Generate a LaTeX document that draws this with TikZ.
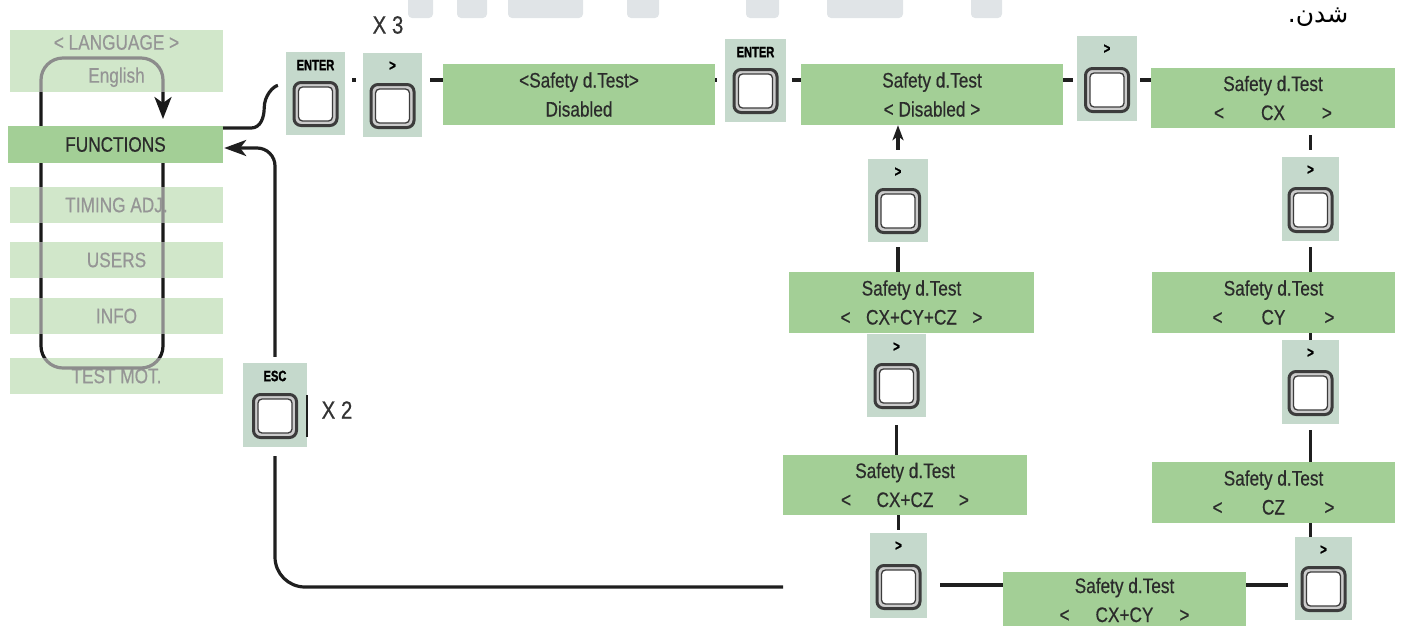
\documentclass[tikz,border=0pt]{standalone}
\usepackage{fontspec}
\setmainfont{Liberation Sans}[FakeStretch=0.82,FakeBold=0.5]
\newfontfamily\arabicfont[Script=Arabic]{DejaVu Sans}
\newfontfamily\keyfont{Liberation Sans}[FakeStretch=0.74,FakeBold=1.2]
\TeXXeTstate=1
\usetikzlibrary{arrows.meta,calc}
\definecolor{dispgreen}{HTML}{A3CF96}
\definecolor{keygray}{HTML}{C5D9CC}
\definecolor{txtdark}{HTML}{2B2B2B}
\definecolor{topgray}{HTML}{E0E4E7}
\definecolor{btndark}{HTML}{3C3C3C}
\tikzset{
  disp/.style={rectangle, fill=dispgreen, inner sep=0pt, align=center, text=txtdark, font=\fontsize{21}{29}\selectfont},
  keybox/.style={rectangle, fill=keygray, inner sep=0pt},
  keylabel/.style={font=\keyfont\fontsize{15}{15}\selectfont\bfseries, text=black, inner sep=0pt},
  btnout/.style={rectangle, rounded corners=7pt, draw=btndark, line width=3pt, fill=gray!40, minimum width=43pt, minimum height=43pt, inner sep=0pt},
  btnin/.style={rectangle, rounded corners=4pt, draw=btndark, line width=1.3pt, fill=white, minimum width=34pt, minimum height=34pt, inner sep=0pt},
  conn/.style={draw=black!88, line width=3.2pt},
  arr/.style={conn, -{Stealth[length=22pt,width=16pt,inset=6pt]}},
  smallarr/.style={conn, -{Stealth[length=15pt,width=11pt,inset=4pt]}},
  menuloop/.style={draw=black!90, line width=3.2pt, rounded corners=22pt, -{Stealth[length=22pt,width=17pt,inset=6pt]}},
  fade/.style={fill=white, opacity=0.5},
  topblock/.style={fill=topgray, rounded corners=4pt},
  mult/.style={font=\fontsize{25}{25}\selectfont, text=black!80, inner sep=0pt}
}
\newcommand{\mykey}[6]{%
  \node[keybox, minimum width={(#4-#2)*1pt}, minimum height={(#5-#3)*1pt}] (#1) at ({(#2+#4)/2},{(#3+#5)/2}) {};
  \node[keylabel] (#1l) at ({(#2+#4)/2},{#3+13}) {#6};
  \node[btnout] (#1b) at ({(#2+#4)/2},{#5-31}) {};
  \node[btnin] (#1i) at (#1b) {};
}
\newcommand{\mydisp}[6]{%
  \node[disp, minimum width={(#4-#2)*1pt}, minimum height={(#5-#3)*1pt}] (#1) at ({(#2+#4)/2},{(#3+#5)/2}) {#6};
}
\newcommand{\selrow}[2]{\makebox[#1pt]{<\hfill #2\hfill>}}
\begin{document}
\begin{tikzpicture}[x=1pt,y=-1pt]
\useasboundingbox (0,0) rectangle (1402,625);
% top blocks
\foreach \a/\b in {408/433,457/487,508/583,627/659,746/779,827/903,971/1002}
  \fill[topblock] (\a,-6) rectangle (\b,18);
\node[font=\fontsize{25}{25}\selectfont, inner sep=0pt] (arab) at (1318,17) {\arabicfont\beginR شدن.\endR};
% left menu (faded)
\mydisp{lang}{10}{30}{223}{92}{\raisebox{4pt}{< LANGUAGE >}\\English}
\mydisp{timing}{10}{187}{223}{223}{TIMING ADJ.}
\mydisp{users}{10}{242}{223}{278}{USERS}
\mydisp{info}{10}{298}{223}{334}{INFO}
\mydisp{testm}{10}{358}{223}{394}{TEST MOT.}
\coordinate (lpTL) at (41,58);
\coordinate (lpBR) at (163,368);
\draw[menuloop, shorten >=7pt] (lpBR |- 0,163) -- (lpBR) -- (lpBR -| lpTL) -- (lpTL) -- (lpTL -| lpBR) -- (lpBR |- 0,126);
\foreach \n in {lang,timing,users,info,testm}
  \fill[fade] (\n.south west) rectangle (\n.north east);
\mydisp{func}{8}{126}{223}{163}{FUNCTIONS}
% keys
\mykey{k1}{286}{52}{345}{135}{ENTER}
\mykey{k2}{363}{53}{422}{137}{>}
\mykey{k3}{725}{39}{786}{122}{ENTER}
\mykey{k4}{1077}{36}{1137}{121}{>}
\mykey{k5}{1282}{157}{1339}{241}{>}
\mykey{k6}{1282}{340}{1339}{424}{>}
\mykey{k7}{1295}{537}{1352}{620}{>}
\mykey{k8}{870}{533}{927}{618}{>}
\mykey{k9}{867}{334}{926}{417}{>}
\mykey{k10}{868}{159}{928}{242}{>}
\mykey{esc}{243}{363}{307}{447}{ESC}
% displays
\mydisp{d1}{443}{64}{715}{125}{<Safety d.Test>\\Disabled}
\mydisp{d2}{801}{64}{1063}{125}{Safety d.Test\\< Disabled >}
\mydisp{d3}{1151}{68}{1395}{128}{Safety d.Test\\\selrow{118}{CX}}
\mydisp{d4}{1152}{272}{1395}{333}{Safety d.Test\\\selrow{122}{CY}}
\mydisp{d5}{1152}{462}{1395}{523}{Safety d.Test\\\selrow{122}{CZ}}
\mydisp{d6}{1003}{572}{1246}{628}{Safety d.Test\\\selrow{130}{CX+CY}}
\mydisp{d7}{783}{455}{1027}{515}{Safety d.Test\\\selrow{128}{CX+CZ}}
\mydisp{d8}{789}{272}{1034}{333}{Safety d.Test\\\selrow{142}{CX+CY+CZ}}
% multipliers
\node[mult] (x3) at (388,25) {X 3};
\node[mult] (x2) at (337,410) {X 2};
% connectors
\coordinate (row) at (0,80);
\coordinate (row2) at (0,84);
\coordinate (row3) at (0,585);
\draw[conn, shorten >=8pt] ([yshift=16.5pt]func.east) -- ++(28,0) to[out=0,in=-90] ++(13,-20) to[out=90,in=190] (k1.west |- row2);
\draw[conn, shorten <=7pt, shorten >=7pt] (k1.east |- row) -- (k2.west |- row);
\draw[conn, shorten <=8pt] (k2.east |- row) -- (d1.west |- row);
\draw[conn, shorten >=8pt] (d1.east |- row) -- (k3.west |- row);
\draw[conn, shorten <=6pt] (k3.east |- row) -- (d2.west |- row);
\draw[conn, shorten >=4pt] (d2.east |- row) -- (k4.west |- row);
\draw[conn, shorten <=3pt] (k4.east |- row) -- (d3.west |- row);
\draw[conn, shorten <=7pt, shorten >=7pt] (k5 |- d3.south) -- (k5.north);
\draw[conn, shorten <=6pt] (k5.south) -- (k5 |- d4.north);
\draw[conn] (k6 |- d4.south) -- (k6.north);
\draw[conn, shorten <=6pt] (k6.south) -- (k6 |- d5.north);
\draw[conn] (k5 |- d5.south) -- (k5 |- k7.north);
\draw[conn, shorten <=7pt] (k7.west |- row3) -- (d6.east |- row3);
\draw[conn, shorten >=13pt] (d6.west |- row3) -- (k8.east |- row3);
\draw[conn, shorten <=3pt] (k8.north) -- (k8 |- d7.south);
\draw[conn, shorten >=8pt] (k9 |- d7.north) -- (k9.south);
\draw[conn, shorten >=5pt] (k10 |- d8.north) -- (k10.south);
\draw[smallarr, shorten <=9pt] (k10.north) -- (k10 |- d2.south);
\draw[arr, rounded corners=18pt, shorten <=6pt, shorten >=1pt] (esc.north) |- ([yshift=-3.5pt]func.east);
\coordinate (bend) at (783,587);
\draw[conn, rounded corners=30pt, shorten <=9pt] (esc.south) |- (bend);
\draw[conn, line width=2pt] ([yshift=10pt]esc.east) -- ([yshift=-32pt]esc.east);
\end{tikzpicture}
\end{document}
